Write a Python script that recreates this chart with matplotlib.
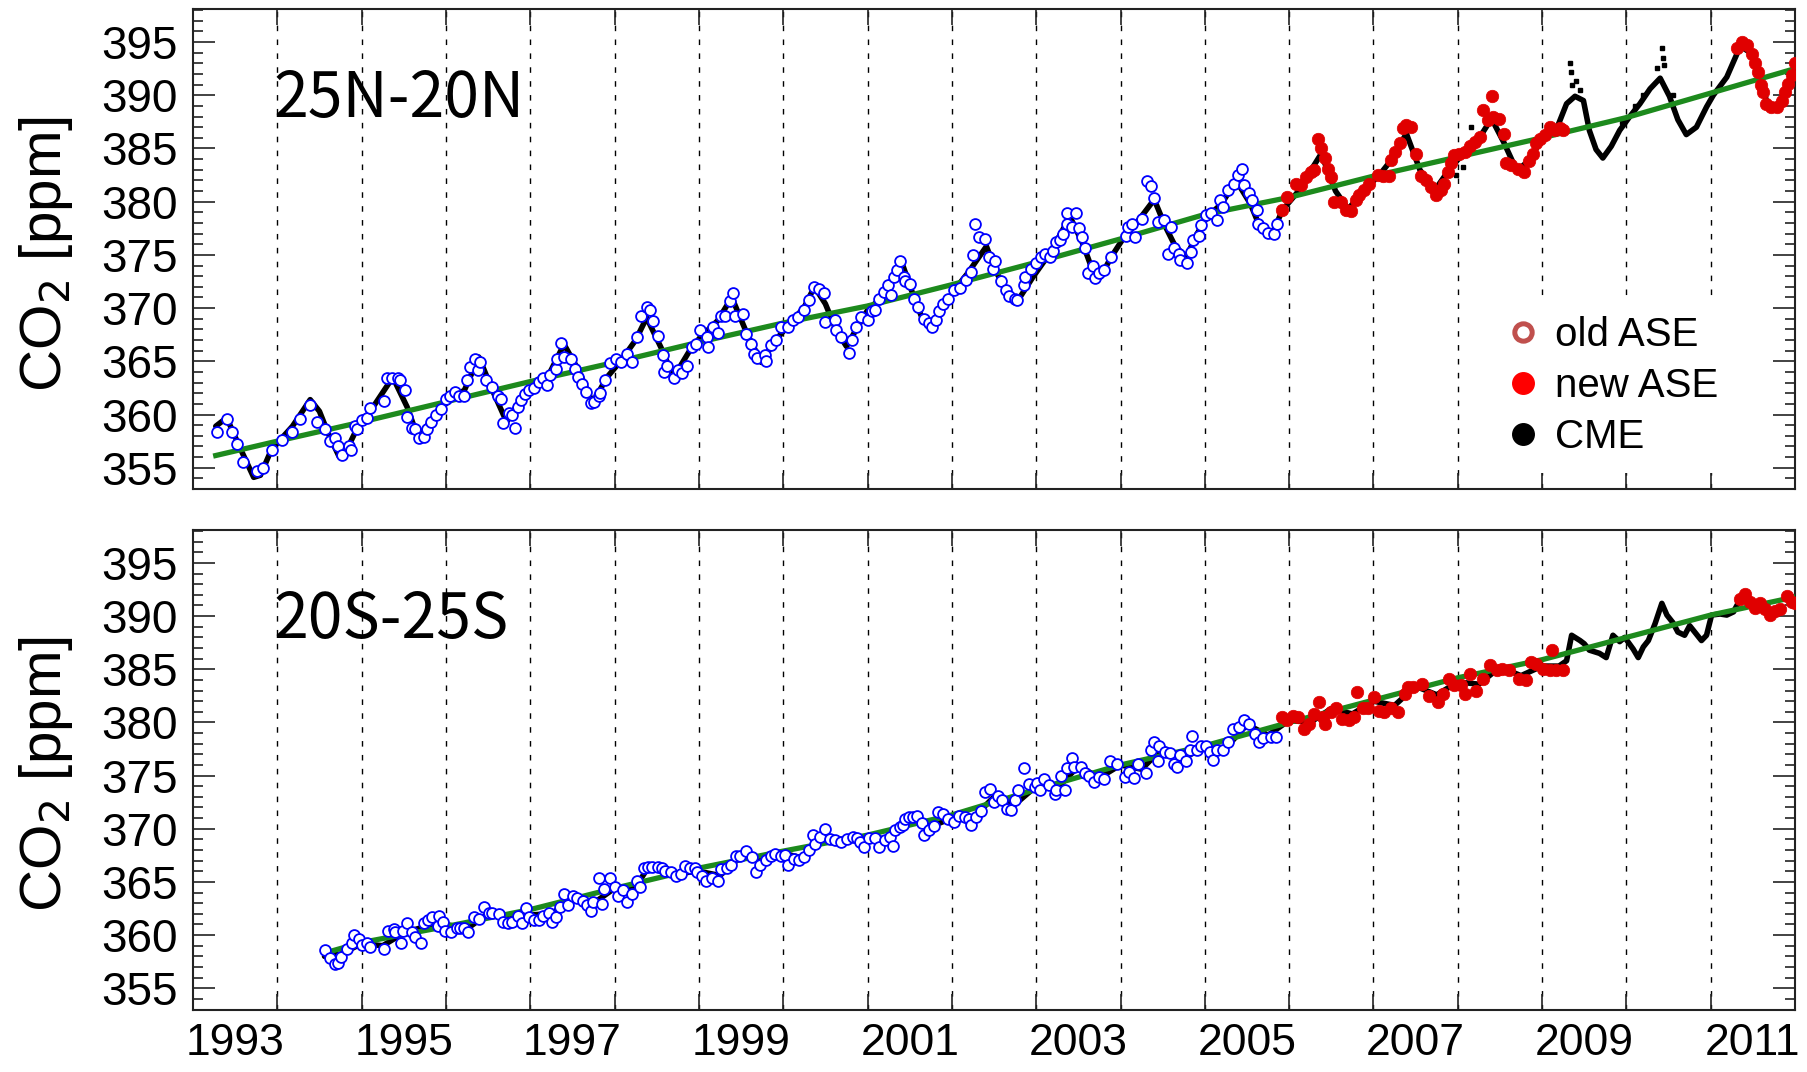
import matplotlib
matplotlib.use("Agg")
import matplotlib.pyplot as plt
from matplotlib.lines import Line2D
from matplotlib.ticker import FixedLocator, MultipleLocator, NullFormatter

plt.rcParams["font.family"] = ["Liberation Sans", "DejaVu Sans"]

# ---------------------------------------------------------------- data
# x axis: decimal year; y axis: CO2 mixing ratio [ppm]
grid_years = list(range(1994, 2012))
label_years = list(range(1993, 2012, 2))

# ---- 25N-20N ----
n_trend_t = [1993.27, 1994, 1995, 1996, 1997, 1998, 1999, 2000, 2001, 2002, 2003,
             2004, 2005, 2006, 2007, 2008, 2009, 2010, 2011, 2012]
n_trend_v = [356.15, 357.5, 359.3, 361.2, 363.1, 364.9, 366.8, 368.6, 370.2, 372.2,
             374.3, 376.5, 378.8, 380.4, 382.4, 384.2, 386.0, 387.9, 390.2, 392.5]

n_cme_t = [1993.27, 1993.40, 1993.55, 1993.72, 1993.80, 1993.93, 1994.18, 1994.39, 1994.50,
           1994.60, 1994.73, 1994.80, 1994.94, 1995.11, 1995.37, 1995.54, 1995.67, 1995.88,
           1996.05, 1996.22, 1996.39, 1996.55, 1996.72, 1996.93, 1997.10, 1997.23, 1997.40,
           1997.57, 1997.74, 1997.91, 1998.08, 1998.25, 1998.38, 1998.55, 1998.70, 1998.89,
           1999.02, 1999.22, 1999.39, 1999.57, 1999.74, 1999.91, 2000.12, 2000.25, 2000.37,
           2000.50, 2000.63, 2000.75, 2000.88, 2001.00, 2001.18, 2001.30, 2001.41, 2001.52,
           2001.64, 2001.77, 2001.90, 2002.03, 2002.19, 2002.41, 2002.53, 2002.70, 2002.79,
           2002.96, 2003.13, 2003.25, 2003.40, 2003.55, 2003.68, 2003.76, 2003.89, 2004.02,
           2004.19, 2004.40, 2004.53, 2004.65, 2004.78, 2004.91, 2005.03, 2005.20, 2005.37,
           2005.54, 2005.67, 2005.80, 2005.92, 2006.09, 2006.38, 2006.55, 2006.70, 2006.87,
           2007.07, 2007.21, 2007.39, 2007.55, 2007.72, 2007.88, 2008.08, 2008.24, 2008.40,
           2008.55, 2008.70, 2008.85, 2009.01, 2009.17, 2009.29, 2009.39, 2009.49, 2009.56,
           2009.64, 2009.72, 2009.82, 2009.92, 2010.04, 2010.16, 2010.28, 2010.40, 2010.51,
           2010.61, 2010.71, 2010.83, 2010.95, 2011.03, 2011.19, 2011.35, 2011.47, 2011.55,
           2011.66, 2011.76, 2011.86, 2011.94, 2012.00]
n_cme_v = [358.9, 359.7, 357.0, 354.1, 354.3, 356.7, 358.9, 361.4, 360.3,
           358.3, 356.1, 356.3, 358.6, 360.4, 363.5, 360.7, 357.8, 360.1,
           361.4, 362.3, 365.4, 362.3, 359.3, 362.0, 363.2, 363.9, 366.6,
           364.2, 361.1, 363.5, 365.1, 367.0, 369.1, 366.3, 363.5, 366.0,
           367.3, 368.8, 371.0, 367.6, 364.9, 367.0, 368.9, 370.1, 372.0,
           370.4, 367.9, 366.4, 368.2, 369.8, 371.1, 372.9, 374.2, 371.7,
           369.2, 368.2, 370.1, 371.7, 373.3, 375.8, 373.3, 371.1, 370.8,
           372.9, 374.8, 376.4, 378.6, 376.1, 373.3, 372.9, 374.8, 376.4,
           378.0, 380.2, 377.7, 375.8, 374.8, 377.0, 378.6, 379.8, 382.0,
           379.8, 377.3, 377.0, 379.2, 380.8, 384.5, 381.0, 379.3, 380.9,
           382.5, 383.9, 386.4, 383.0, 381.0, 382.8, 384.7, 385.8, 387.8,
           385.5, 382.9, 383.9, 386.1, 386.8, 389.2, 389.9, 389.5, 386.7,
           384.9, 384.1, 385.2, 386.7, 388.0, 389.2, 390.6, 391.6, 389.9,
           387.7, 386.3, 387.0, 388.9, 390.0, 391.7, 394.6, 394.0, 392.5,
           389.5, 388.8, 389.9, 391.6, 392.9]

n_cme_spike_t = [2007.98, 2008.06, 2008.16, 2009.33, 2009.34, 2009.36, 2009.40, 2009.45,
                 2009.95, 2010.10, 2010.20, 2010.36, 2010.42, 2010.43, 2010.45, 2010.55]
n_cme_spike_v = [382.5, 383.3, 387.0, 393.0, 392.2, 391.0, 391.3, 390.5,
                 387.5, 389.0, 390.0, 392.6, 394.4, 393.5, 392.8, 390.0]

n_old_t = [1993.29, 1993.40, 1993.46, 1993.52, 1993.59, 1993.76, 1993.83, 1993.94, 1994.05,
           1994.17, 1994.27, 1994.39, 1994.47, 1994.57, 1994.63, 1994.69, 1994.72, 1994.77,
           1994.85, 1994.87, 1994.92, 1994.95, 1995.00, 1995.06, 1995.10, 1995.27, 1995.30,
           1995.36, 1995.43, 1995.46, 1995.52, 1995.54, 1995.60, 1995.63, 1995.68, 1995.74,
           1995.78, 1995.82, 1995.88, 1995.94, 1996.00, 1996.05, 1996.11, 1996.15, 1996.22,
           1996.25, 1996.28, 1996.34, 1996.38, 1996.40, 1996.48, 1996.55, 1996.62, 1996.65,
           1996.68, 1996.75, 1996.78, 1996.82, 1996.85, 1996.89, 1996.94, 1996.98, 1997.04,
           1997.10, 1997.15, 1997.20, 1997.23, 1997.30, 1997.32, 1997.36, 1997.40, 1997.48,
           1997.53, 1997.57, 1997.61, 1997.66, 1997.72, 1997.76, 1997.82, 1997.83, 1997.89,
           1997.94, 1998.02, 1998.08, 1998.15, 1998.21, 1998.26, 1998.31, 1998.38, 1998.42,
           1998.46, 1998.52, 1998.57, 1998.59, 1998.62, 1998.70, 1998.75, 1998.80, 1998.86,
           1998.92, 1998.97, 1999.01, 1999.10, 1999.11, 1999.17, 1999.23, 1999.26, 1999.31,
           1999.37, 1999.40, 1999.43, 1999.52, 1999.56, 1999.62, 1999.65, 1999.69, 1999.78,
           1999.80, 1999.86, 1999.91, 1999.97, 2000.06, 2000.12, 2000.18, 2000.25, 2000.31,
           2000.37, 2000.42, 2000.48, 2000.50, 2000.61, 2000.63, 2000.69, 2000.78, 2000.82,
           2000.86, 2000.92, 2001.01, 2001.05, 2001.09, 2001.14, 2001.20, 2001.24, 2001.28,
           2001.31, 2001.35, 2001.39, 2001.43, 2001.45, 2001.50, 2001.55, 2001.60, 2001.67,
           2001.73, 2001.77, 2001.81, 2001.85, 2001.90, 2001.95, 2002.03, 2002.10, 2002.17,
           2002.23, 2002.25, 2002.28, 2002.32, 2002.39, 2002.44, 2002.49, 2002.51, 2002.58,
           2002.64, 2002.68, 2002.75, 2002.77, 2002.85, 2002.87, 2002.94, 2003.00, 2003.06,
           2003.11, 2003.16, 2003.20, 2003.23, 2003.28, 2003.32, 2003.36, 2003.37, 2003.42,
           2003.47, 2003.51, 2003.54, 2003.58, 2003.61, 2003.67, 2003.70, 2003.75, 2003.81,
           2003.89, 2004.06, 2004.09, 2004.14, 2004.17, 2004.25, 2004.31, 2004.36, 2004.40,
           2004.44, 2004.51, 2004.56, 2004.60, 2004.63, 2004.69, 2004.70, 2004.79, 2004.84,
           2004.86, 2004.93, 2004.96, 2005.01, 2005.07, 2005.14, 2005.18, 2005.21, 2005.28,
           2005.35, 2005.39, 2005.44, 2005.47, 2005.52, 2005.56, 2005.62, 2005.63, 2005.69,
           2005.75, 2005.82, 2005.86]
n_old_v = [358.4, 359.6, 358.4, 357.2, 355.5, 354.7, 355.0, 356.7, 357.6,
           358.4, 359.6, 360.9, 359.3, 358.6, 357.5, 357.8, 357.0, 356.2,
           357.0, 356.7, 358.9, 358.6, 359.5, 359.7, 360.6, 361.3, 363.4,
           363.4, 363.4, 363.2, 362.3, 359.8, 358.7, 358.6, 357.8, 357.9,
           358.6, 359.3, 360.0, 360.5, 361.5, 361.7, 362.1, 361.7, 361.7,
           363.2, 364.5, 365.2, 364.2, 364.9, 363.2, 362.6, 361.7, 361.5,
           359.2, 360.1, 360.0, 358.7, 360.7, 361.4, 361.9, 362.3, 362.5,
           363.1, 363.4, 362.8, 363.7, 364.3, 365.2, 366.7, 365.4, 365.2,
           364.3, 363.5, 362.9, 362.1, 361.1, 361.2, 361.7, 362.0, 363.2,
           364.8, 365.2, 364.9, 365.7, 364.9, 367.3, 369.3, 370.1, 369.8,
           368.8, 367.4, 365.6, 364.0, 364.6, 363.4, 364.2, 363.9, 364.6,
           366.3, 366.6, 367.9, 367.3, 366.3, 368.2, 367.7, 369.3, 369.3,
           370.7, 371.4, 369.3, 369.4, 367.6, 366.6, 365.7, 365.3, 365.6,
           365.0, 366.5, 367.0, 368.2, 368.2, 368.9, 369.2, 369.8, 370.8,
           372.0, 371.8, 371.4, 368.7, 368.9, 367.9, 367.3, 365.8, 367.0,
           368.2, 369.2, 368.9, 369.7, 369.8, 370.9, 371.5, 372.2, 371.2,
           372.9, 373.6, 374.4, 372.9, 372.5, 372.3, 370.9, 370.1, 369.0,
           368.6, 368.2, 368.9, 369.7, 370.4, 370.9, 371.7, 371.9, 372.6,
           373.4, 375.0, 377.9, 376.7, 376.5, 374.8, 373.7, 374.4, 372.5,
           371.7, 371.1, 370.9, 370.8, 372.2, 372.9, 373.7, 374.2, 374.8,
           375.1, 374.8, 375.4, 376.2, 376.4, 377.0, 377.9, 378.9, 377.6,
           378.9, 377.5, 376.7, 375.6, 373.3, 374.0, 372.8, 373.3, 373.6,
           374.8, 376.8, 377.6, 377.9, 376.7, 378.4, 381.9, 381.5, 380.3,
           378.1, 378.3, 375.1, 377.6, 375.6, 375.1, 374.5, 374.2, 375.3,
           376.4, 376.8, 377.8, 378.7, 378.9, 378.3, 380.2, 379.5, 381.1,
           381.7, 382.5, 383.1, 381.6, 380.8, 380.2, 379.2, 377.9, 377.5,
           377.1, 377.0, 377.9]

n_new_t = [2005.92, 2005.98, 2006.08, 2006.14, 2006.20, 2006.26, 2006.30, 2006.34, 2006.38,
           2006.42, 2006.46, 2006.50, 2006.53, 2006.61, 2006.67, 2006.73, 2006.79, 2006.83,
           2006.89, 2006.95, 2007.05, 2007.11, 2007.19, 2007.21, 2007.26, 2007.31, 2007.35,
           2007.39, 2007.45, 2007.50, 2007.56, 2007.62, 2007.68, 2007.74, 2007.80, 2007.84,
           2007.88, 2007.92, 2007.96, 2008.02, 2008.08, 2008.14, 2008.20, 2008.26, 2008.30,
           2008.36, 2008.40, 2008.42, 2008.49, 2008.55, 2008.57, 2008.63, 2008.71, 2008.79,
           2008.85, 2008.89, 2008.93, 2008.97, 2009.03, 2009.09, 2009.15, 2009.21, 2009.25,
           2011.31, 2011.37, 2011.43, 2011.49, 2011.52, 2011.56, 2011.60, 2011.62, 2011.66,
           2011.72, 2011.78, 2011.84, 2011.88, 2011.92, 2011.96, 2012.00]
n_new_v = [379.2, 380.4, 381.7, 381.6, 382.3, 382.8, 383.0, 385.9, 385.0,
           384.1, 383.1, 382.3, 380.0, 380.0, 379.2, 379.1, 380.2, 380.6,
           381.1, 381.7, 382.5, 382.4, 382.4, 383.9, 384.7, 385.5, 386.9,
           387.2, 387.0, 384.5, 382.4, 382.0, 381.4, 380.6, 381.1, 381.7,
           382.8, 383.6, 384.4, 384.5, 384.7, 385.2, 385.6, 386.1, 388.6,
           387.7, 389.9, 388.0, 387.8, 386.4, 383.6, 383.4, 383.1, 382.8,
           383.8, 384.5, 385.5, 385.9, 386.3, 387.0, 386.7, 386.9, 386.7,
           394.4, 395.0, 394.7, 393.9, 393.0, 392.2, 391.0, 390.3, 389.2,
           388.9, 388.9, 389.5, 390.3, 391.1, 391.9, 393.0]

# ---- 20S-25S ----
s_trend_t = [1994.60, 1995, 1996, 1997, 1998, 1999, 2000, 2001, 2002, 2003, 2004,
             2005, 2006, 2007, 2008, 2009, 2010, 2011, 2012]
s_trend_v = [358.4, 359.3, 360.8, 362.4, 364.4, 366.3, 367.9, 369.4, 371.3, 373.7, 376.0,
             377.8, 380.0, 382.1, 384.2, 385.9, 388.0, 390.1, 391.8]

s_cme_t = [1994.56, 1994.75, 1995.00, 1995.25, 1995.50, 1995.75, 1996.00, 1996.25, 1996.50,
           1996.75, 1997.00, 1997.25, 1997.50, 1997.75, 1998.00, 1998.25, 1998.40, 1998.75,
           1999.00, 1999.25, 1999.50, 1999.75, 2000.00, 2000.25, 2000.50, 2000.75, 2001.00,
           2001.25, 2001.50, 2001.75, 2002.00, 2002.25, 2002.50, 2002.75, 2003.00, 2003.25,
           2003.50, 2003.75, 2004.00, 2004.25, 2004.50, 2004.75, 2005.00, 2005.25, 2005.50,
           2005.75, 2006.00, 2006.25, 2006.50, 2006.75, 2007.00, 2007.25, 2007.50, 2007.75,
           2008.00, 2008.25, 2008.50, 2008.75, 2009.00, 2009.20, 2009.29, 2009.35, 2009.45,
           2009.50, 2009.56, 2009.68, 2009.76, 2009.84, 2009.92, 2009.98, 2010.08, 2010.14,
           2010.20, 2010.26, 2010.34, 2010.42, 2010.48, 2010.55, 2010.61, 2010.69, 2010.75,
           2010.81, 2010.89, 2010.95, 2011.01, 2011.11, 2011.19, 2011.27, 2011.33]
s_cme_v = [358.0, 358.2, 359.2, 359.0, 360.2, 360.8, 361.0, 360.6, 362.0,
           361.5, 361.9, 362.0, 363.4, 363.0, 364.4, 364.5, 366.4, 365.8,
           366.0, 365.6, 367.4, 367.0, 367.7, 367.2, 369.3, 368.9, 369.3,
           369.0, 371.0, 370.2, 371.0, 371.0, 373.0, 372.3, 374.0, 373.8,
           375.9, 374.8, 376.0, 375.6, 377.6, 376.6, 377.8, 377.6, 379.8,
           378.8, 380.2, 380.0, 381.3, 380.8, 382.0, 381.6, 383.4, 382.6,
           383.8, 383.6, 385.2, 384.4, 385.3, 385.3, 385.8, 388.2, 387.7,
           387.4, 386.8, 386.5, 386.1, 388.2, 387.6, 388.0, 386.9, 386.1,
           387.1, 387.7, 389.3, 391.2, 390.1, 389.4, 388.5, 388.2, 389.1,
           388.5, 387.7, 388.2, 390.1, 390.2, 390.1, 390.4, 391.3]

s_old_t = [1994.56, 1994.63, 1994.68, 1994.72, 1994.76, 1994.83, 1994.88, 1994.91, 1994.97,
           1995.01, 1995.06, 1995.10, 1995.26, 1995.31, 1995.38, 1995.40, 1995.47, 1995.49,
           1995.54, 1995.60, 1995.63, 1995.70, 1995.74, 1995.79, 1995.83, 1995.90, 1995.92,
           1995.97, 1995.99, 1996.06, 1996.13, 1996.17, 1996.21, 1996.26, 1996.33, 1996.39,
           1996.45, 1996.51, 1996.55, 1996.63, 1996.68, 1996.74, 1996.78, 1996.85, 1996.90,
           1996.95, 1996.98, 1997.04, 1997.10, 1997.15, 1997.22, 1997.26, 1997.31, 1997.35,
           1997.40, 1997.45, 1997.51, 1997.56, 1997.63, 1997.67, 1997.72, 1997.74, 1997.81,
           1997.85, 1997.88, 1997.95, 1998.01, 1998.04, 1998.10, 1998.15, 1998.21, 1998.26,
           1998.30, 1998.35, 1998.40, 1998.44, 1998.51, 1998.56, 1998.60, 1998.67, 1998.73,
           1998.79, 1998.83, 1998.89, 1998.95, 1998.98, 1999.04, 1999.08, 1999.15, 1999.23,
           1999.26, 1999.33, 1999.38, 1999.44, 1999.49, 1999.56, 1999.63, 1999.68, 1999.72,
           1999.79, 1999.85, 1999.90, 1999.97, 2000.02, 2000.06, 2000.13, 2000.19, 2000.25,
           2000.30, 2000.35, 2000.38, 2000.44, 2000.50, 2000.55, 2000.61, 2000.68, 2000.76,
           2000.83, 2000.87, 2000.91, 2000.96, 2001.02, 2001.09, 2001.14, 2001.21, 2001.27,
           2001.30, 2001.33, 2001.38, 2001.42, 2001.45, 2001.49, 2001.54, 2001.59, 2001.64,
           2001.67, 2001.73, 2001.79, 2001.84, 2001.90, 2001.95, 2002.02, 2002.09, 2002.16,
           2002.20, 2002.23, 2002.29, 2002.35, 2002.39, 2002.45, 2002.50, 2002.55, 2002.60,
           2002.65, 2002.70, 2002.75, 2002.79, 2002.86, 2002.92, 2002.98, 2003.01, 2003.05,
           2003.09, 2003.15, 2003.22, 2003.24, 2003.29, 2003.34, 2003.36, 2003.42, 2003.45,
           2003.53, 2003.58, 2003.63, 2003.68, 2003.74, 2003.80, 2003.88, 2003.96, 2004.05,
           2004.10, 2004.16, 2004.21, 2004.30, 2004.36, 2004.40, 2004.45, 2004.46, 2004.53,
           2004.59, 2004.63, 2004.67, 2004.70, 2004.78, 2004.83, 2004.85, 2004.91, 2004.95,
           2005.01, 2005.06, 2005.10, 2005.14, 2005.21, 2005.27, 2005.33, 2005.40, 2005.46,
           2005.52, 2005.59, 2005.64, 2005.69, 2005.78, 2005.84]
s_old_v = [358.6, 357.8, 357.3, 357.4, 357.95, 358.7, 359.3, 360.0, 359.6,
           359.1, 359.3, 358.9, 358.7, 360.4, 360.6, 360.3, 359.3, 360.4,
           361.1, 360.3, 359.8, 359.3, 361.1, 361.4, 361.7, 360.9, 361.8,
           361.2, 360.4, 360.3, 360.7, 360.7, 360.7, 360.3, 361.7, 361.5,
           362.6, 362.1, 362.1, 362.0, 361.2, 361.1, 361.2, 361.8, 361.1,
           362.5, 361.7, 361.4, 361.4, 361.8, 362.1, 361.2, 361.7, 362.6,
           363.9, 362.8, 363.7, 363.5, 363.2, 362.8, 362.3, 363.1, 365.4,
           362.9, 364.3, 365.4, 364.5, 363.7, 364.2, 363.1, 363.9, 365.1,
           364.5, 366.3, 366.4, 366.4, 366.4, 366.3, 366.0, 365.9, 365.6,
           365.7, 366.5, 366.3, 366.3, 365.9, 365.6, 365.1, 365.4, 365.1,
           366.2, 366.3, 366.6, 367.4, 367.4, 367.9, 367.3, 365.9, 366.6,
           367.1, 367.4, 367.6, 367.4, 367.5, 366.6, 367.2, 367.1, 367.3,
           368.0, 369.4, 368.6, 369.2, 370.0, 369.0, 368.9, 368.75, 369.0,
           369.2, 369.1, 368.75, 368.3, 369.1, 369.1, 368.3, 368.9, 369.2,
           368.35, 369.9, 370.2, 370.4, 370.9, 371.1, 371.1, 371.2, 370.5,
           369.4, 369.9, 370.3, 371.6, 371.4, 370.9, 370.6, 371.2, 371.1,
           370.9, 370.4, 371.1, 371.7, 373.5, 373.7, 372.5, 373.1, 372.7,
           371.9, 371.8, 372.7, 373.6, 375.7, 374.2, 373.9, 374.3, 373.6,
           374.7, 374.1, 373.3, 373.6, 375.0, 373.6, 375.7, 376.7, 375.8,
           375.8, 375.2, 375.0, 374.4, 374.9, 374.7, 376.4, 376.1, 374.9,
           375.3, 374.8, 376.1, 375.2, 377.4, 378.2, 376.4, 377.8, 377.2,
           377.1, 376.1, 375.8, 376.9, 376.4, 377.4, 378.7, 377.4, 377.8,
           377.8, 377.2, 376.5, 377.4, 377.4, 378.2, 379.4, 379.6, 380.2,
           379.9, 378.9, 378.2, 378.5, 378.6, 378.6]

s_new_t = [2005.92, 2005.98, 2006.04, 2006.10, 2006.18, 2006.24, 2006.30, 2006.35, 2006.40,
           2006.42, 2006.50, 2006.55, 2006.63, 2006.71, 2006.77, 2006.81, 2006.87, 2006.93,
           2007.01, 2007.07, 2007.13, 2007.21, 2007.29, 2007.37, 2007.41, 2007.47, 2007.58,
           2007.66, 2007.76, 2007.82, 2007.90, 2007.96, 2008.04, 2008.08, 2008.14, 2008.22,
           2008.30, 2008.38, 2008.46, 2008.53, 2008.61, 2008.73, 2008.81, 2008.87, 2008.93,
           2009.01, 2009.09, 2009.12, 2009.17, 2009.25,
           2011.35, 2011.41, 2011.47, 2011.52, 2011.58, 2011.64, 2011.70, 2011.76, 2011.82,
           2011.90, 2011.96, 2012.00]
s_new_v = [380.5, 380.2, 380.6, 380.5, 379.4, 379.9, 380.8, 381.9, 380.5,
           379.9, 381.0, 381.4, 380.35, 380.2, 380.5, 382.9, 381.4, 381.4,
           382.4, 381.1, 381.0, 381.4, 381.0, 382.7, 383.3, 383.3, 383.6,
           382.5, 381.9, 382.7, 384.1, 383.5, 383.5, 382.7, 384.6, 383.0,
           384.1, 385.4, 384.9, 385.0, 384.9, 384.1, 383.95, 385.7, 385.5,
           385.05, 384.9, 386.8, 384.9, 384.9,
           391.6, 392.1, 391.3, 390.8, 391.2, 390.7, 390.1, 390.5, 390.7,
           391.9, 391.3, 391.2]

# ---------------------------------------------------------------- styles
GREEN = "#1d8a1d"
BLUE = "#0000ff"
RED = "#e00000"
OLD_LEGEND = "#c0504d"
GRID_DASH = (0, (4, 6))

fig = plt.figure(figsize=(18.07, 10.72), dpi=100)
ax_top = fig.add_axes([0.1068, 0.5438, 0.8866, 0.4478])
ax_bot = fig.add_axes([0.1068, 0.0583, 0.8866, 0.4473])


def style_axis(ax, show_labels):
    ax.set_xlim(1993, 2012)
    ax.set_ylim(353, 398.1)
    for sp in ax.spines.values():
        sp.set_linewidth(1.5)
        sp.set_color("#222222")
    ax.yaxis.set_major_locator(MultipleLocator(5))
    ax.yaxis.set_minor_locator(MultipleLocator(1))
    ax.tick_params(axis="y", which="major", direction="in", length=15.5, width=1.2,
                   left=True, right=True, labelsize=33, pad=11, color="#222222")
    ax.tick_params(axis="y", which="minor", direction="in", length=7.2, width=1.2,
                   left=True, right=True, color="#222222")
    # year boundaries carry ticks + dashed grid; labels sit mid-year
    ax.xaxis.set_major_locator(FixedLocator(grid_years))
    ax.xaxis.set_major_formatter(NullFormatter())
    ax.xaxis.set_minor_locator(FixedLocator([y + 0.5 for y in label_years]))
    if show_labels:
        ax.set_xticklabels([str(y) for y in label_years], minor=True)
    else:
        ax.xaxis.set_minor_formatter(NullFormatter())
    ax.tick_params(axis="x", which="major", direction="in", length=11.5, width=1.2,
                   top=True, bottom=True, color="#222222")
    ax.tick_params(axis="x", which="minor", length=0, labelsize=32, pad=10)
    ax.grid(axis="x", which="major", color="black", linewidth=1.0, linestyle=GRID_DASH)
    ax.set_axisbelow(True)
    ax.text(-0.092, 0.49, "CO$_2$ [ppm]", transform=ax.transAxes, rotation=90,
            ha="center", va="center", fontsize=42)


def draw_panel(ax, trend_t, trend_v, cme_t, cme_v, old_t, old_v, new_t, new_v, title):
    ax.plot(cme_t, cme_v, color="black", linewidth=4.0, solid_joinstyle="round",
            solid_capstyle="round", zorder=2)
    ax.plot(trend_t, trend_v, color=GREEN, linewidth=3.8, zorder=3)
    ax.plot(old_t, old_v, linestyle="none", marker="o", markersize=7.8,
            markerfacecolor="white", markeredgecolor=BLUE, markeredgewidth=1.3, zorder=4)
    ax.plot(new_t, new_v, linestyle="none", marker="o", markersize=9.0,
            markerfacecolor=RED, markeredgecolor=RED, markeredgewidth=0.5, zorder=4)
    ax.text(0.05, 0.775, title, transform=ax.transAxes, fontsize=45,
            family=["Noto Sans CJK JP", "DejaVu Sans"], ha="left", va="baseline")


style_axis(ax_top, show_labels=False)
style_axis(ax_bot, show_labels=True)

draw_panel(ax_top, n_trend_t, n_trend_v, n_cme_t, n_cme_v, n_old_t, n_old_v,
           n_new_t, n_new_v, "25N-20N")
ax_top.plot(n_cme_spike_t, n_cme_spike_v, linestyle="none", marker="s", markersize=3.2,
            color="black", zorder=2)

draw_panel(ax_bot, s_trend_t, s_trend_v, s_cme_t, s_cme_v, s_old_t, s_old_v,
           s_new_t, s_new_v, "20S-25S")

handles = [
    Line2D([], [], linestyle="none", marker="o", markersize=12.5, markerfacecolor="white",
           markeredgecolor=OLD_LEGEND, markeredgewidth=3.6),
    Line2D([], [], linestyle="none", marker="o", markersize=15.5, markerfacecolor="#ff0000",
           markeredgecolor="#ff0000"),
    Line2D([], [], linestyle="none", marker="o", markersize=15.5, markerfacecolor="black",
           markeredgecolor="black"),
]
leg = ax_top.legend(handles, ["old ASE", "new ASE", "CME"], loc="upper left",
                    bbox_to_anchor=(0.8096, 0.396), fontsize=29, frameon=True,
                    facecolor="white", edgecolor="none", framealpha=1.0, fancybox=False,
                    borderpad=0.42, handlelength=0.8, handletextpad=0.4,
                    labelspacing=0.33, borderaxespad=0.0)
leg.set_zorder(6)

fig.savefig("out.png", dpi=100)
